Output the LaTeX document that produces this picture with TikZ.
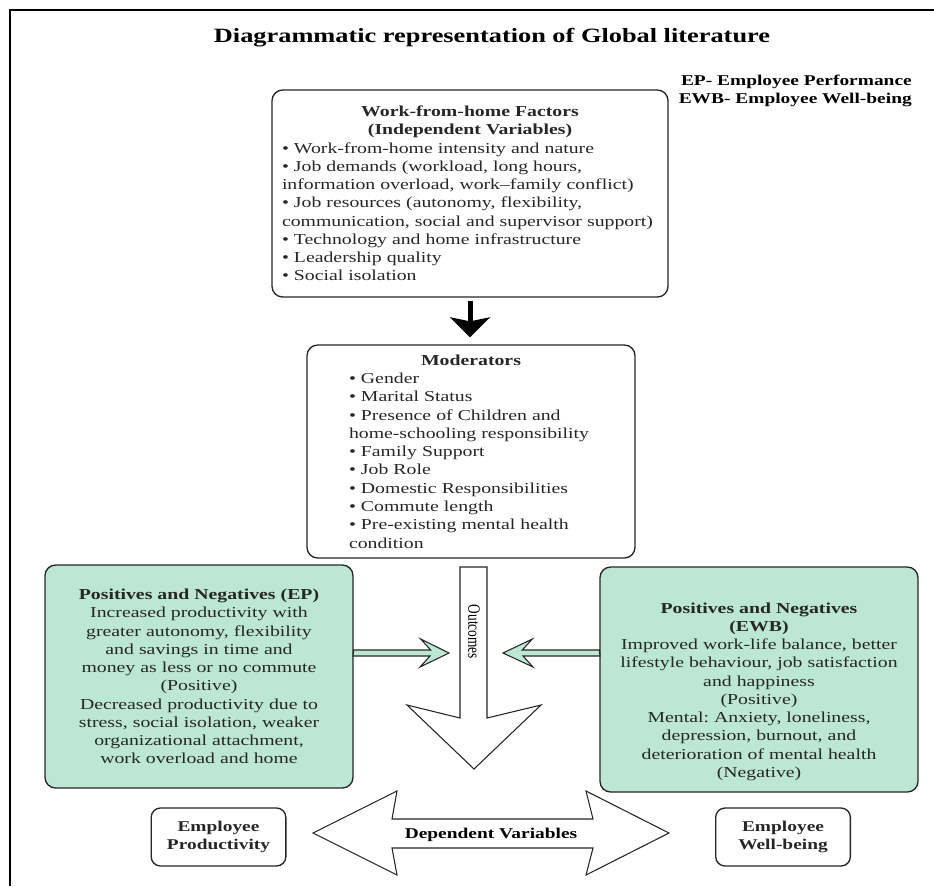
\documentclass[tikz,border=0pt]{standalone}
\usepackage{fontspec}
\setmainfont{Liberation Serif}[FakeStretch=1.3]
\newfontfamily\outfont{Liberation Serif}
\usepackage{graphicx}
\usetikzlibrary{arrows.meta}
\definecolor{mintfill}{RGB}{188,231,212}
\definecolor{inkgray}{RGB}{38,38,38}
\frenchspacing
\begin{document}
\begin{tikzpicture}[x=0.75pt,y=-0.75pt,line join=miter,>=Stealth,
    font=\fontsize{11.4}{13.7}\selectfont,
    box/.style={draw=inkgray,line width=1pt,rounded corners=8pt,inner sep=0pt,text=black!85},
    greenbox/.style={box,fill=mintfill,align=center},
    endbox/.style={box,rounded corners=7pt,minimum width=101pt,minimum height=43.5pt,
        align=center,font=\fontsize{11.2}{13.7}\selectfont\bfseries},
    blockarrow/.style={draw=inkgray,line width=0.8pt,fill=white},
    smallarrow/.style={draw=inkgray,line width=0.8pt,fill=mintfill}]
    \useasboundingbox (0,0) rectangle (934,886);
    \draw[line width=1.6pt] (10,886)--(10,10)--(934,10);
    \node[font=\fontsize{15.2}{18}\selectfont\bfseries] (title) at (492,38)
        {Diagrammatic representation of Global literature};
    \node[anchor=north east,align=right,inner sep=0pt,font=\fontsize{11.2}{13.5}\selectfont\bfseries]
        (legend) at (912,75) {EP- Employee Performance\\EWB- Employee Well-being};
    % independent variables
    \node[box,minimum width=297pt,minimum height=155.25pt,text width=282pt,align=left]
        (wfh) at (470,193.5) {{\centering\bfseries Work-from-home Factors\\(Independent Variables)\par}
        • Work-from-home intensity and nature\\
        • Job demands (workload, long hours,\\
        information overload, work--family conflict)\\
        • Job resources (autonomy, flexibility,\\
        communication, social and supervisor support)\\
        • Technology and home infrastructure\\
        • Leadership quality\\
        • Social isolation};
    \node[box,minimum width=246pt,minimum height=159.75pt,text width=183pt,align=left]
        (mod) at (471,451.5) {{\centering\bfseries Moderators\par}
        • Gender\\
        • Marital Status\\
        • Presence of Children and\\
        home-schooling responsibility\\
        • Family Support\\
        • Job Role\\
        • Domestic Responsibilities\\
        • Commute length\\
        • Pre-existing mental health\\
        condition};
    \coordinate (modtop) at (wfh.south |- mod.north);
    \draw[line width=3.75pt,-{Stealth[length=15pt,width=30pt,inset=3pt]}]
        ([yshift=-2.25pt]wfh.south) -- ([yshift=5.25pt]modtop);
    % outcomes
    \node[greenbox,minimum width=231pt,minimum height=167.25pt,text width=222pt]
        (ep) at (199,676.5) {\textbf{Positives and Negatives (EP)}\\
        Increased productivity with\\
        greater autonomy, flexibility\\
        and savings in time and\\
        money as less or no commute\\
        (Positive)\\
        Decreased productivity due to\\
        stress, social isolation, weaker\\
        organizational attachment,\\
        work overload and home};
    \node[greenbox,minimum width=238.5pt,minimum height=168.75pt,text width=230pt]
        (ewb) at (759,679.5) {\rule{0pt}{26pt}\textbf{Positives and Negatives}\\
        \textbf{(EWB)}\\
        Improved work-life balance, better\\
        lifestyle behaviour, job satisfaction\\
        and happiness\\
        (Positive)\\
        Mental: Anxiety, loneliness,\\
        depression, burnout, and\\
        deterioration of mental health\\
        (Negative)};
    \draw[blockarrow] (460,567)--(487,567)--(487,718)--(541,705)--(474,769)--(407,705)--(460,718)--cycle;
    \node[rotate=-90,inner sep=0pt,font=\outfont\fontsize{10}{12}\selectfont] (outc) at (474,632)
        {\scalebox{1}[1.3]{Outcomes}};
    \coordinate (tipL) at (449,653);
    \coordinate (tipR) at (503,653);
    \draw[smallarrow] (ep.east |- tipL) ++(0,-3) -- ++(77,0) -- ++(-10,-11) -- (tipL)
        -- ++(-29,14) -- ++(10,-11) -- ++(-77,0) -- cycle;
    \draw[smallarrow] (ewb.west |- tipR) ++(0,-3) -- ++(-77,0) -- ++(10,-11) -- (tipR)
        -- ++(30,14) -- ++(-10,-11) -- ++(77,0) -- cycle;
    % dependent variables
    \draw[blockarrow] (313,833)--(397,791)--(392,819)--(593,819)--(586,791)--(669,833)
        --(586,875)--(593,848)--(392,848)--(397,875)--cycle;
    \node[font=\fontsize{11.2}{13.7}\selectfont\bfseries] (depv) at (491,835) {Dependent Variables};
    \foreach \nm/\xx/\txt in {prod/218.5/Productivity,wb/783/Well-being}{
        \node[endbox] (\nm) at (\xx,837) {Employee\\\txt};}
\end{tikzpicture}
\end{document}
